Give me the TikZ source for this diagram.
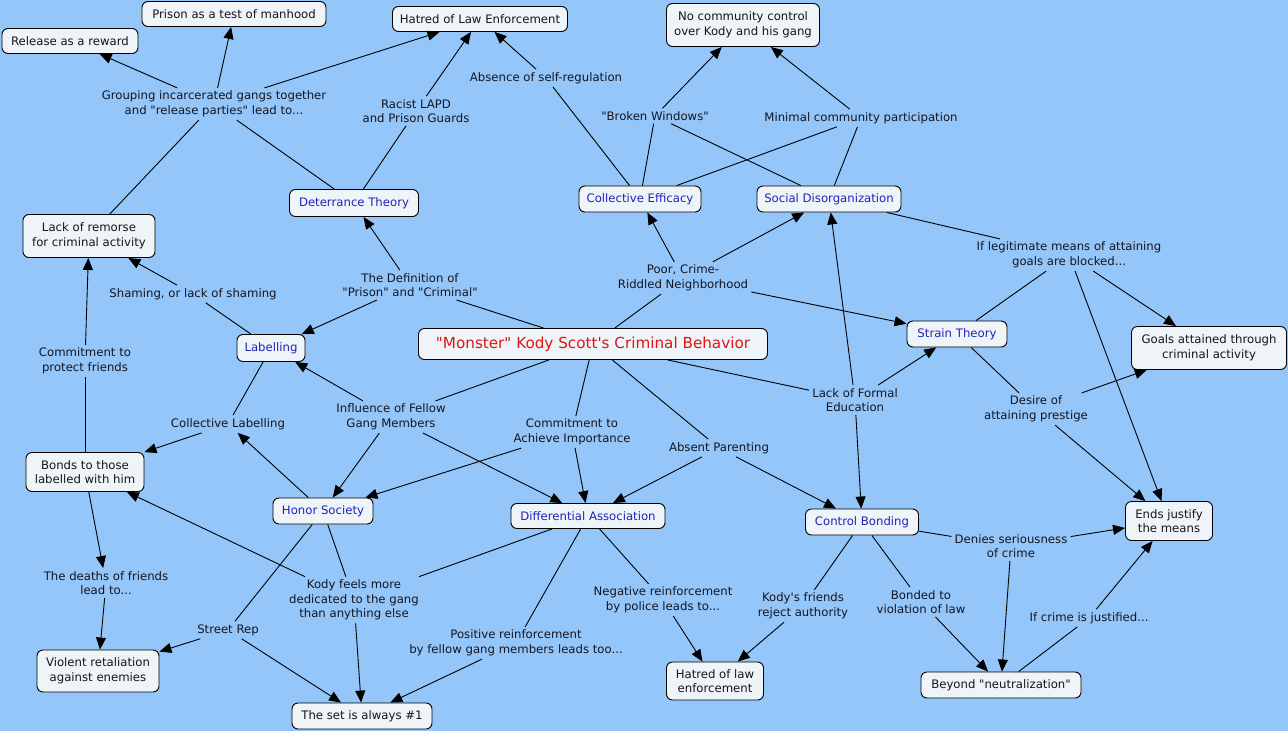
\documentclass[tikz,border=0pt]{standalone}
\usepackage{fontspec}
\setmainfont{DejaVu Sans}[Ligatures=TeXOff]
\usetikzlibrary{arrows.meta}
\definecolor{bg}{HTML}{94C6FA}
\definecolor{boxfill}{HTML}{EEF4F7}
\definecolor{txt}{HTML}{151520}
\definecolor{blu}{HTML}{2222BB}
\definecolor{redt}{HTML}{DD1515}
\begin{document}
\begin{tikzpicture}[x=1pt,y=-1pt,
  basefont/.style={font=\fontsize{11.7}{14.5}\selectfont},
  concept/.style={basefont, draw=black, line width=0.9pt, fill=boxfill, rounded corners=6pt, inner sep=0pt, align=center, text=txt},
  theory/.style={concept, text=blu},
  lp/.style={basefont, inner xsep=3pt, inner ysep=3pt, align=center, text=txt},
  ln/.style={draw=black, line width=0.9pt},
  ar/.style={ln, -{Triangle[length=12pt,width=10pt]}},
]
\path[use as bounding box, fill=bg] (0,0) rectangle (1288,731);

% concepts
\node[concept, minimum width=136pt, minimum height=25pt] (rel) at (70,41) {Release as a reward};
\node[concept, minimum width=184pt, minimum height=25pt] (pris) at (234,14) {Prison as a test of manhood};
\node[concept, minimum width=175pt, minimum height=25pt] (hle) at (480,19) {Hatred of Law Enforcement};
\node[concept, minimum width=153pt, minimum height=43pt] (ncc) at (743,25) {No community control\\over Kody and his gang};
\node[concept, minimum width=132pt, minimum height=43pt] (lor) at (89,236) {Lack of remorse\\for criminal activity};
\node[theory, minimum width=129pt, minimum height=27pt] (det) at (354,203) {Deterrance Theory};
\node[theory, minimum width=122pt, minimum height=26pt] (ce) at (640,199) {Collective Efficacy};
\node[theory, minimum width=144pt, minimum height=26pt] (sd) at (829,199) {Social Disorganization};
\node[theory, minimum width=100pt, minimum height=26pt] (st) at (957,334) {Strain Theory};
\node[concept, minimum width=155pt, minimum height=43pt] (goals) at (1209,348) {Goals attained through\\criminal activity};
\node[theory, minimum width=68pt, minimum height=27pt] (lab) at (271,348) {Labelling};
\node[concept, minimum width=349pt, minimum height=31pt, text=redt, font=\fontsize{15.2}{18}\selectfont] (mon) at (593,344) {"Monster" Kody Scott's Criminal Behavior};
\node[concept, minimum width=118pt, minimum height=39pt] (bonds) at (85,472) {Bonds to those\\labelled with him};
\node[theory, minimum width=100pt, minimum height=26pt] (hs) at (323,511) {Honor Society};
\node[theory, minimum width=154pt, minimum height=25pt] (da) at (588,516) {Differential Association};
\node[theory, minimum width=113pt, minimum height=26pt] (cb) at (862,522) {Control Bonding};
\node[concept, minimum width=87pt, minimum height=39pt] (ends) at (1169,521) {Ends justify\\the means};
\node[concept, minimum width=122pt, minimum height=42pt] (viol) at (98,671) {Violent retaliation\\against enemies};
\node[concept, minimum width=140pt, minimum height=26pt] (set) at (362,716) {The set is always \#1};
\node[concept, minimum width=97pt, minimum height=38pt] (hle2) at (715,681) {Hatred of law\\enforcement};
\node[concept, minimum width=160pt, minimum height=26pt] (bey) at (1001,685) {Beyond "neutralization"};

% linking phrases
\node[lp] (l1) at (214,104) {Grouping incarcerated gangs together\\and "release parties" lead to...};
\node[lp] (l2) at (416,111) {Racist LAPD\\and Prison Guards};
\node[lp] (l3) at (546,78) {Absence of self-regulation};
\node[lp] (l4) at (655,116) {"Broken Windows"};
\node[lp] (l5) at (861,118) {Minimal community participation};
\node[lp] (l6) at (1069,255) {If legitimate means of attaining\\goals are blocked...};
\node[lp] (l7) at (410,285) {The Definition of\\"Prison" and "Criminal"};
\node[lp] (l8) at (683,278) {Poor, Crime-\\Riddled Neighborhood};
\node[lp] (l9) at (193,294) {Shaming, or lack of shaming};
\node[lp] (l10) at (85,361) {Commitment to\\protect friends};
\node[lp] (l11) at (228,424) {Collective Labelling};
\node[lp] (l12) at (391,417) {Influence of Fellow\\Gang Members};
\node[lp] (l13) at (572,432) {Commitment to\\Achieve Importance};
\node[lp] (l14) at (719,448) {Absent Parenting};
\node[lp] (l15) at (855,400) {Lack of Formal\\Education};
\node[lp] (l16) at (1036,409) {Desire of\\attaining prestige};
\node[lp] (l17) at (1011,546) {Denies seriousness\\of crime};
\node[lp] (l18) at (106,583) {The deaths of friends\\lead to...};
\node[lp] (l19) at (354,600) {Kody feels more\\dedicated to the gang\\than anything else};
\node[lp] (l20) at (228,630) {Street Rep};
\node[lp] (l21) at (516,643) {Positive reinforcement\\by fellow gang members leads too...};
\node[lp] (l22) at (663,600) {Negative reinforcement\\by police leads to...};
\node[lp] (l23) at (803,606) {Kody's friends\\reject authority};
\node[lp] (l24) at (921,602) {Bonded to\\violation of law};
\node[lp] (l25) at (1089,618) {If crime is justified...};

% connectors
\draw[ln] (det) -- (l1);
\draw[ln] (lor) -- (l1);
\draw[ar] (l1) -- (rel);
\draw[ar] (l1) -- (pris);
\draw[ar] (l1) -- (hle);
\draw[ln] (det) -- (l2);
\draw[ar] (l2) -- (hle);
\draw[ln] (ce) -- (l3);
\draw[ar] (l3) -- (hle);
\draw[ln] (ce) -- (l4);
\draw[ln] (sd) -- (l4);
\draw[ar] (l4) -- (ncc);
\draw[ln] (ce) -- (l5);
\draw[ln] (sd) -- (l5);
\draw[ar] (l5) -- (ncc);
\draw[ln] (sd) -- (l6);
\draw[ln] (st) -- (l6);
\draw[ar] (l6) -- (goals);
\draw[ar] (l6) -- (ends);
\draw[ln] (mon) -- (l7);
\draw[ar] (l7) -- (det);
\draw[ar] (l7) -- (lab);
\draw[ln] (mon) -- (l8);
\draw[ar] (l8) -- (ce);
\draw[ar] (l8) -- (sd);
\draw[ar] (l8) -- (st);
\draw[ln] (lab) -- (l9);
\draw[ar] (l9) -- (lor);
\draw[ln] (bonds) -- (l10);
\draw[ar] (l10) -- (lor);
\draw[ln] (lab) -- (l11);
\draw[ar] (l11) -- (bonds);
\draw[ar] (hs) -- (l11);
\draw[ln] (mon) -- (l12);
\draw[ar] (l12) -- (lab);
\draw[ar] (l12) -- (hs);
\draw[ar] (l12) -- (da);
\draw[ln] (mon) -- (l13);
\draw[ar] (l13) -- (da);
\draw[ar] (l13) -- (hs);
\draw[ln] (mon) -- (l14);
\draw[ar] (l14) -- (da);
\draw[ar] (l14) -- (cb);
\draw[ln] (mon) -- (l15);
\draw[ar] (l15) -- (st);
\draw[ar] (l15) -- (cb);
\draw[ar] (l15) -- (sd);
\draw[ln] (st) -- (l16);
\draw[ar] (l16) -- (goals);
\draw[ar] (l16) -- (ends);
\draw[ln] (cb) -- (l17);
\draw[ar] (l17) -- (ends);
\draw[ar] (l17) -- (bey);
\draw[ar] (bonds) -- (l18);
\draw[ar] (l18) -- (viol);
\draw[ln] (hs) -- (l19);
\draw[ln] (da) -- (l19);
\draw[ar] (l19) -- (bonds);
\draw[ar] (l19) -- (set);
\draw[ln] (hs) -- (l20);
\draw[ar] (l20) -- (viol);
\draw[ar] (l20) -- (set);
\draw[ln] (da) -- (l21);
\draw[ar] (l21) -- (set);
\draw[ln] (da) -- (l22);
\draw[ar] (l22) -- (hle2);
\draw[ln] (cb) -- (l23);
\draw[ar] (l23) -- (hle2);
\draw[ln] (cb) -- (l24);
\draw[ar] (l24) -- (bey);
\draw[ln] (bey) -- (l25);
\draw[ar] (l25) -- (ends);
\end{tikzpicture}
\end{document}
